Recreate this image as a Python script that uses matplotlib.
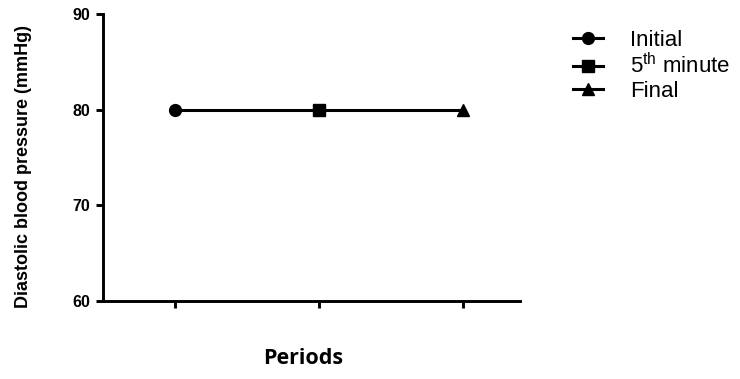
import matplotlib
matplotlib.use("Agg")
import matplotlib.pyplot as plt
from matplotlib.lines import Line2D

plt.rcParams['font.family'] = 'Liberation Sans'
plt.rcParams['mathtext.fontset'] = 'custom'
plt.rcParams['mathtext.rm'] = 'Liberation Sans'

# data
periods = ["Initial", "5$^{\\mathrm{th}}$ minute", "Final"]
markers = ["o", "s", "^"]
x_pos = [0, 1, 2]
dbp = [80, 80, 80]
y_ticks = [60, 70, 80, 90]

fig = plt.figure(figsize=(7.4, 3.79), dpi=100)
ax = fig.add_axes([0.139, 0.206, 0.564, 0.757])

# connecting line
ax.plot(x_pos, dbp, color='black', lw=2.2, zorder=2)
for xi, yi, m in zip(x_pos, dbp, markers):
    ax.plot(xi, yi, marker=m, color='black', ms=8.5, ls='none', zorder=3,
            clip_on=False)

ax.set_xlim(-0.5, 2.4)
ax.set_ylim(60, 90)
ax.set_xticks(x_pos)
ax.set_xticklabels([])
ax.set_yticks(y_ticks)
ax.set_yticklabels([str(v) for v in y_ticks], fontweight='bold', fontsize=11.5)

for s in ['top', 'right']:
    ax.spines[s].set_visible(False)
for s in ['left', 'bottom']:
    ax.spines[s].set_linewidth(2.1)
ax.tick_params(width=2.1, length=5, color='black', pad=4)

fig.text(24 / 740, 1 - 167 / 379, "Diastolic blood pressure (mmHg)",
         rotation=90, ha='center', va='center', fontweight='bold', fontsize=13)
fig.text(303 / 740, 1 - 358 / 379, "Periods", ha='center', va='center',
         fontweight='bold', fontsize=15.5, family='Open Sans')

handles = [Line2D([0], [0], color='black', lw=2.2, marker=m, ms=8.5)
           for m in markers]
fig.legend(handles, periods, loc='upper left', bbox_to_anchor=(0.7595, 0.95),
           frameon=False, fontsize=16, handlelength=1.35, handletextpad=1.2,
           labelspacing=0.1, borderpad=0)

fig.savefig("out.png", dpi=100)
